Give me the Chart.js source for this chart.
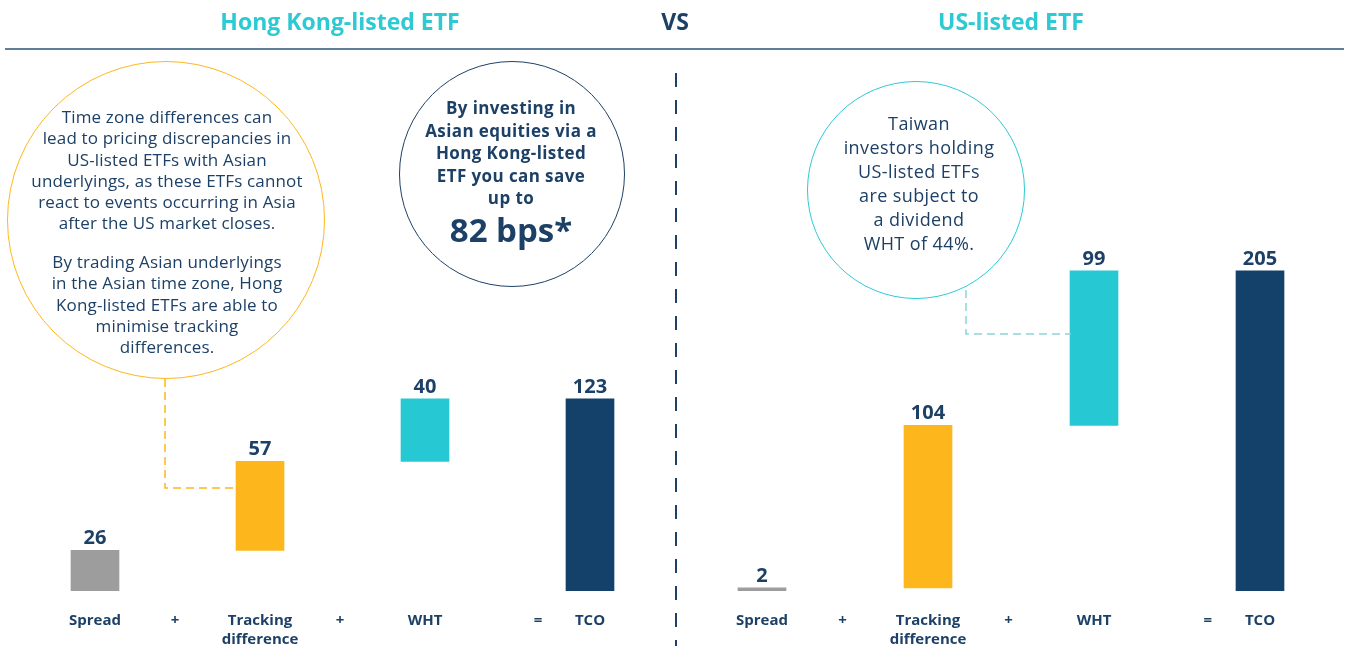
<!DOCTYPE html>
<html>
<head>
<meta charset="utf-8">
<script src="https://cdn.jsdelivr.net/npm/chart.js@4.4.1/dist/chart.umd.min.js"></script>
<style>
  body { margin: 0; background: #fff; }
  #wrap { position: relative; width: 1348px; height: 646px; overflow: hidden; font-family: "Open Sans", sans-serif; color: #1d4066; }
  canvas { position: absolute; top: 0; }
  #hkChart { left: 0; }
  #usChart { left: 676px; }
  svg { position: absolute; left: 0; top: 0; pointer-events: none; }
  .head { position: absolute; top: 5px; font-weight: 700; font-size: 23px; color: #2ccad3; text-align: center; transform: translateX(-50%); white-space: nowrap; }
  .circle { position: absolute; border-radius: 50%; box-sizing: border-box; }
  .txt { position: absolute; text-align: center; transform: translateX(-50%); white-space: nowrap; }
</style>
</head>
<body>
<div id="wrap">
  <canvas id="hkChart" width="676" height="646"></canvas>
  <canvas id="usChart" width="672" height="646"></canvas>

  <svg width="1348" height="646">
    <line x1="5" y1="49" x2="1344" y2="49" stroke="#5f7f99" stroke-width="2"/>
    <line x1="676" y1="73" x2="676" y2="646" stroke="#1d4066" stroke-width="2" stroke-dasharray="14 13"/>
    <path d="M165 379 V488 H236" fill="none" stroke="#fdb71d" stroke-width="1.5" stroke-dasharray="8 5"/>
    <path d="M966 290 V334 H1071" fill="none" stroke="#8ad5d9" stroke-width="1.5" stroke-dasharray="8 5"/>
  </svg>

  <div class="head" style="left:340px">Hong Kong-listed ETF</div>
  <div class="head" style="left:675px; color:#1d4066">VS</div>
  <div class="head" style="left:1011px">US-listed ETF</div>

  <div class="circle" style="left:7px; top:61px; width:318px; height:318px; border:1.5px solid #fdb71d"></div>
  <div class="txt" style="left:167px; top:106px; font-size:17px; letter-spacing:0.15px; line-height:21.3px">Time zone differences can<br>lead to pricing discrepancies in<br>US-listed ETFs with Asian<br>underlyings, as these ETFs cannot<br>react to events occurring in Asia<br>after the US market closes.</div>
  <div class="txt" style="left:167px; top:251px; font-size:17px; letter-spacing:0.15px; line-height:21.3px">By trading Asian underlyings<br>in the Asian time zone, Hong<br>Kong-listed ETFs are able to<br>minimise tracking<br>differences.</div>

  <div class="circle" style="left:399px; top:61px; width:226px; height:226px; border:1.5px solid #1d4066"></div>
  <div class="txt" style="left:511px; top:97px; font-size:17px; letter-spacing:0.4px; line-height:22.5px; font-weight:700">By investing in<br>Asian equities via a<br>Hong Kong-listed<br>ETF you can save<br>up to</div>
  <div class="txt" style="left:511px; top:208px; font-size:33px; line-height:44px; font-weight:700">82 bps*</div>

  <div class="circle" style="left:807px; top:81px; width:218px; height:218px; border:1.5px solid #2ccad3"></div>
  <div class="txt" style="left:919px; top:111px; font-size:18px; letter-spacing:0.4px; line-height:24px">Taiwan<br>investors holding<br>US-listed ETFs<br>are subject to<br>a dividend<br>WHT of 44%.</div>
</div>

<script>
const categories = ['Spread', ['Tracking', 'difference'], 'WHT', 'TCO'];
const operators = ['+', '+', '='];
const hkValues = [26, 57, 40, 123];
const usValues = [2, 104, 99, 205];
const barColors = ['#9d9d9d', '#fdb71d', '#26c9d3', '#14416a'];
const navy = '#1d4066';

// floating ranges for a waterfall: each step starts where the last ended, total starts at 0
function toWaterfall(vals) {
    let run = 0;
    return vals.map((v, i) => {
        if (i === vals.length - 1) return [0, v];
        const r = [run, run + v];
        run += v;
        return r;
    });
}

const labelsPlugin = {
    id: 'waterfallLabels',
    afterDatasetsDraw(chart, args, opts) {
        const ctx = chart.ctx;
        const meta = chart.getDatasetMeta(0);
        const x = chart.scales.x;
        ctx.save();
        ctx.fillStyle = navy;
        ctx.textAlign = 'center';

        // values above bars
        ctx.font = 'bold 20px "Open Sans"';
        ctx.textBaseline = 'alphabetic';
        meta.data.forEach((bar, i) => {
            ctx.fillText(String(opts.values[i]), bar.x, bar.y - 6);
        });

        // category labels under the bars
        ctx.font = 'bold 15px "Open Sans"';
        categories.forEach((c, i) => {
            const lines = Array.isArray(c) ? c : [c];
            lines.forEach((line, j) => {
                ctx.fillText(line, x.getPixelForValue(i), 625 + j * 19);
            });
        });

        // + and = between the categories
        operators.forEach((op, i) => {
            const pos = op === '=' ? i + 0.685 : i + 0.485;
            ctx.fillText(op, x.getPixelForValue(pos), 625);
        });
        ctx.restore();
    }
};

function createWaterfall(id, values, padLeft, padRight) {
    const ctx = document.getElementById(id).getContext('2d');
    return new Chart(ctx, {
        type: 'bar',
        data: {
            labels: categories,
            datasets: [{
                data: toWaterfall(values),
                backgroundColor: barColors,
                borderWidth: 0,
                barThickness: 48
            }]
        },
        options: {
            responsive: false,
            animation: false,
            layout: { padding: { left: padLeft, right: padRight, top: 60, bottom: 55 } },
            scales: {
                x: { display: false },
                y: { display: false, min: 0, max: 340 }
            },
            plugins: {
                legend: { display: false },
                tooltip: { enabled: false },
                waterfallLabels: { values: values }
            }
        },
        plugins: [labelsPlugin]
    });
}

createWaterfall('hkChart', hkValues, 12.5, 3.5);
createWaterfall('usChart', usValues, 3, 5);
</script>
</body>
</html>
